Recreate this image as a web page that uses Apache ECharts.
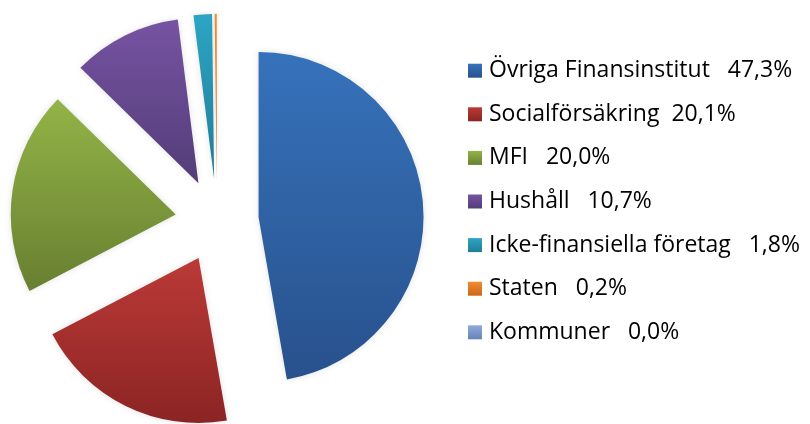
<!DOCTYPE html>
<html><head><meta charset="utf-8">
<script src="https://cdn.jsdelivr.net/npm/echarts@6/dist/echarts.min.js"></script>
<style>html,body{margin:0;padding:0;background:#fff}#c{width:810px;height:424px}</style>
</head><body><div id="c"></div>
<script>
const categories = ['Övriga Finansinstitut','Socialförsäkring','MFI','Hushåll','Icke-finansiella företag','Staten','Kommuner'];
const values = [47.3, 20.1, 20.0, 10.7, 1.8, 0.2, 0.0];
const gaps = ['   ','  ','   ','   ','   ','   ','   '];
const colorsTop = ['#3672bb','#bb3a37','#93b447','#7753a2','#2ca5c4','#f28c2e','#8fabdc'];
const colorsBot = ['#28518c','#8b2423','#687f31','#523d78','#217d97','#c9681a','#6583b5'];

const chart = echarts.init(document.getElementById('c'), null, {renderer:'canvas'});
const grad = (i) => new echarts.graphic.LinearGradient(0,0,0,1,[{offset:0,color:colorsTop[i]},{offset:1,color:colorsBot[i]}]);
chart.setOption({
  animation:false,
  backgroundColor:'#ffffff',
  legend:{
    orient:'vertical', left:468, top:59.2, padding:0,
    icon:'rect', itemWidth:14, itemHeight:14, itemGap:20.6,
    textStyle:{fontFamily:'Open Sans', fontSize:23, color:'#000', lineHeight:22, padding:[0,0,0,2]},
    formatter:(name)=>{const i=categories.indexOf(name);return name+gaps[i]+values[i].toFixed(1).replace('.',',')+'%';},
    selectedMode:false,
    data:categories
  },
  series:[{
    type:'pie',
    center:[217,220.5],
    radius:[0,165],
    startAngle:90,
    clockwise:true,
    selectedMode:'multiple',
    selectedOffset:41.7,
    label:{show:false}, labelLine:{show:false},
    emphasis:{disabled:true},
    itemStyle:{shadowBlur:6, shadowColor:'rgba(0,0,0,0.12)'},
    data:categories.map((n,i)=>({name:n, value:values[i], selected:true, itemStyle:{color:grad(i)}}))
  }]
});
</script></body></html>
